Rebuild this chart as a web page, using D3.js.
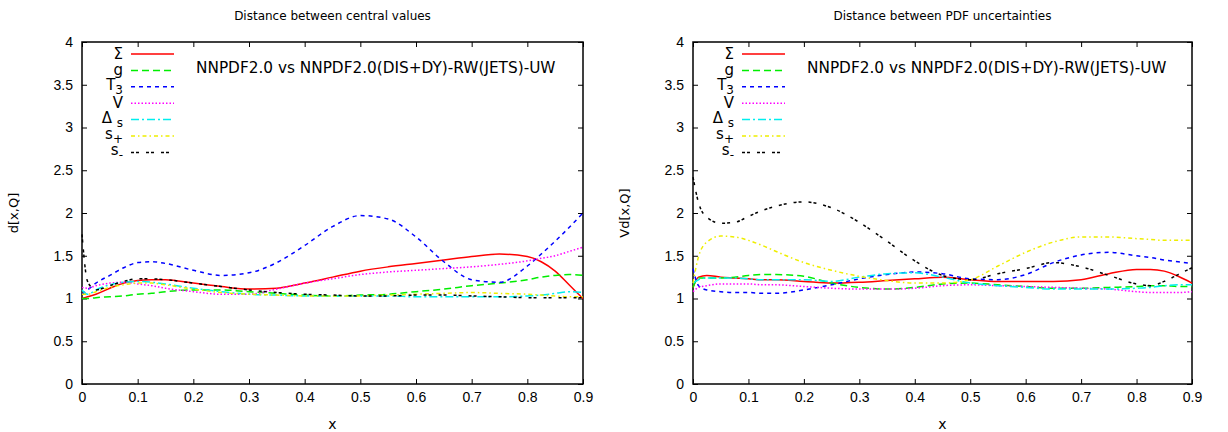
<!DOCTYPE html>
<html>
<head>
<script src="https://d3js.org/d3.v7.min.js"></script>
<style>
  body { margin: 0; background: #fff; font-family: 'DejaVu Sans', sans-serif; }
  .tick text { font-size: 14px; fill: #000; }
  .tick line { stroke: #000; stroke-width: 1; }
</style>
</head>
<body>
<svg id="chart" width="1228" height="432"></svg>
<script>
// x positions shared by all curves
const xGrid = [0, 0.01, 0.025, 0.05, 0.075, 0.1, 0.125, 0.15, 0.2, 0.25, 0.3, 0.35, 0.4, 0.45,
               0.5, 0.55, 0.6, 0.65, 0.7, 0.75, 0.8, 0.825, 0.85, 0.875, 0.9];

// left panel: distance between central values
const cvSigma = [1.0, 1.02, 1.05, 1.12, 1.18, 1.21, 1.22, 1.22, 1.18, 1.14, 1.11, 1.12, 1.18, 1.25,
                 1.32, 1.37, 1.41, 1.45, 1.49, 1.52, 1.49, 1.43, 1.32, 1.16, 1.0];
const cvG     = [1.0, 1.0, 1.01, 1.02, 1.03, 1.05, 1.06, 1.08, 1.1, 1.1, 1.08, 1.06, 1.04, 1.03,
                 1.04, 1.05, 1.08, 1.11, 1.15, 1.18, 1.22, 1.25, 1.27, 1.28, 1.27];
const cvT3    = [1.05, 1.1, 1.18, 1.27, 1.36, 1.42, 1.43, 1.41, 1.33, 1.27, 1.3, 1.42, 1.62, 1.84,
                 1.97, 1.93, 1.72, 1.43, 1.22, 1.19, 1.38, 1.52, 1.67, 1.83, 2.0];
const cvV     = [1.13, 1.12, 1.15, 1.18, 1.19, 1.17, 1.15, 1.12, 1.08, 1.05, 1.05, 1.11, 1.18, 1.23,
                 1.28, 1.31, 1.33, 1.35, 1.37, 1.4, 1.44, 1.47, 1.5, 1.55, 1.6];
const cvDs    = [1.1, 1.05, 1.1, 1.16, 1.19, 1.2, 1.19, 1.17, 1.12, 1.08, 1.05, 1.04, 1.03, 1.03,
                 1.03, 1.03, 1.02, 1.02, 1.02, 1.02, 1.03, 1.04, 1.06, 1.08, 1.07];
const cvSp    = [1.05, 1.05, 1.08, 1.13, 1.16, 1.18, 1.18, 1.16, 1.11, 1.07, 1.05, 1.04, 1.03, 1.03,
                 1.03, 1.04, 1.05, 1.06, 1.07, 1.06, 1.05, 1.04, 1.03, 1.02, 1.02];
const cvSm    = [1.75, 1.2, 1.1, 1.15, 1.2, 1.23, 1.23, 1.22, 1.18, 1.14, 1.1, 1.07, 1.05, 1.04,
                 1.03, 1.03, 1.04, 1.04, 1.03, 1.02, 1.01, 1.01, 1.01, 1.01, 1.01];

// right panel: distance between PDF uncertainties
const unSigma = [1.13, 1.25, 1.27, 1.25, 1.24, 1.23, 1.22, 1.22, 1.2, 1.18, 1.19, 1.21, 1.23, 1.25,
                 1.22, 1.2, 1.2, 1.2, 1.22, 1.29, 1.34, 1.34, 1.32, 1.26, 1.18];
const unG     = [1.13, 1.24, 1.24, 1.24, 1.25, 1.27, 1.28, 1.28, 1.26, 1.18, 1.13, 1.11, 1.13, 1.17,
                 1.18, 1.16, 1.14, 1.12, 1.12, 1.13, 1.14, 1.15, 1.15, 1.14, 1.14];
const unT3    = [1.35, 1.15, 1.1, 1.08, 1.07, 1.07, 1.06, 1.06, 1.1, 1.16, 1.23, 1.28, 1.31, 1.29,
                 1.23, 1.22, 1.28, 1.42, 1.51, 1.54, 1.5, 1.48, 1.45, 1.43, 1.41];
const unV     = [1.08, 1.13, 1.15, 1.17, 1.17, 1.17, 1.16, 1.16, 1.14, 1.12, 1.11, 1.11, 1.12, 1.15,
                 1.16, 1.15, 1.14, 1.13, 1.12, 1.11, 1.08, 1.07, 1.07, 1.07, 1.08];
const unDs    = [1.18, 1.22, 1.24, 1.24, 1.24, 1.23, 1.22, 1.22, 1.22, 1.2, 1.25, 1.29, 1.3, 1.25,
                 1.18, 1.15, 1.13, 1.11, 1.11, 1.11, 1.12, 1.13, 1.15, 1.16, 1.16];
const unSp    = [1.18, 1.49, 1.66, 1.73, 1.72, 1.68, 1.62, 1.55, 1.42, 1.33, 1.26, 1.21, 1.18, 1.18,
                 1.22, 1.38, 1.54, 1.66, 1.72, 1.72, 1.7, 1.69, 1.68, 1.68, 1.68];
const unSm    = [2.42, 2.12, 1.95, 1.88, 1.89, 1.96, 2.03, 2.08, 2.13, 2.06, 1.89, 1.67, 1.44, 1.27,
                 1.22, 1.29, 1.35, 1.42, 1.37, 1.27, 1.17, 1.15, 1.2, 1.28, 1.36];

// legend labels as [main, subscript]
const legendLabels = [["Σ", ""], ["g", ""], ["T", "3"], ["V", ""], ["Δ ", "s"], ["s", "+"], ["s", "-"]];
const xTicks = [0, 0.1, 0.2, 0.3, 0.4, 0.5, 0.6, 0.7, 0.8, 0.9];
const yTicks = [0, 0.5, 1, 1.5, 2, 2.5, 3, 3.5, 4];
const comparison = "NNPDF2.0 vs NNPDF2.0(DIS+DY)-RW(JETS)-UW";

const styles = [
  { color: "#ff0000", dash: null },
  { color: "#00ee00", dash: "7,4" },
  { color: "#0000ff", dash: "4,4" },
  { color: "#ff00ff", dash: "1.5,2" },
  { color: "#00eeee", dash: "8,3,2,3" },
  { color: "#eeee00", dash: "4,3,1.5,3" },
  { color: "#000000", dash: "3,2,3,7" }
];

const svg = d3.select("#chart");

function drawPanel(p) {
  const x = d3.scaleLinear().domain([0, 0.9]).range([p.left, p.right]);
  const y = d3.scaleLinear().domain([0, 4]).range([384, 42]);
  const g = svg.append("g");

  // axes with inward ticks, mirrored
  g.append("g").attr("transform", `translate(0,384)`)
    .call(d3.axisBottom(x).tickValues(xTicks).tickFormat(d3.format("")).tickSize(-5).tickPadding(8))
    .call(a => a.select(".domain").remove());
  g.append("g").attr("transform", `translate(0,42)`)
    .call(d3.axisTop(x).tickValues(xTicks).tickFormat("").tickSize(-5))
    .call(a => a.select(".domain").remove());
  g.append("g").attr("transform", `translate(${p.left},0)`)
    .call(d3.axisLeft(y).tickValues(yTicks).tickFormat(d3.format("")).tickSize(-5).tickPadding(9))
    .call(a => a.select(".domain").remove());
  g.append("g").attr("transform", `translate(${p.right},0)`)
    .call(d3.axisRight(y).tickValues(yTicks).tickFormat("").tickSize(-5))
    .call(a => a.select(".domain").remove());

  g.append("rect")
    .attr("x", p.left).attr("y", 42)
    .attr("width", p.right - p.left).attr("height", 342)
    .attr("fill", "none").attr("stroke", "#000").attr("stroke-width", 1.5);

  // curves
  const line = d3.line().x((d, i) => x(xGrid[i])).y(d => y(d)).curve(d3.curveMonotoneX);
  p.series.forEach((vals, k) => {
    g.append("path")
      .attr("d", line(vals))
      .attr("fill", "none")
      .attr("stroke", styles[k].color)
      .attr("stroke-width", 1.5)
      .attr("stroke-dasharray", styles[k].dash);
  });

  // legend
  legendLabels.forEach((lab, k) => {
    const ly = 54 + k * 16.4;
    g.append("line")
      .attr("x1", p.left + 49).attr("x2", p.left + 92)
      .attr("y1", ly).attr("y2", ly)
      .attr("stroke", styles[k].color)
      .attr("stroke-width", 1.5)
      .attr("stroke-dasharray", styles[k].dash);
    const t = g.append("text")
      .attr("x", p.left + 41).attr("y", ly + (lab[1] ? 3 : 5))
      .attr("text-anchor", "end")
      .attr("font-size", 15);
    t.append("tspan").text(lab[0]);
    if (lab[1]) t.append("tspan").attr("dy", 4).attr("font-size", 12).text(lab[1]);
  });

  g.append("text")
    .attr("x", p.left + 114).attr("y", 73)
    .attr("font-size", 15.3)
    .text(comparison);

  g.append("text")
    .attr("x", (p.left + p.right) / 2).attr("y", 20)
    .attr("text-anchor", "middle")
    .attr("font-size", 12)
    .text(p.title);

  g.append("text")
    .attr("x", (p.left + p.right) / 2).attr("y", 429)
    .attr("text-anchor", "middle")
    .attr("font-size", 14)
    .text("x");

  g.append("text")
    .attr("transform", `translate(${p.left - 64},213) rotate(-90)`)
    .attr("text-anchor", "middle")
    .attr("font-size", 13)
    .text(p.ylabel);
}

drawPanel({ left: 82, right: 583, title: "Distance between central values", ylabel: "d[x,Q]",
  series: [cvSigma, cvG, cvT3, cvV, cvDs, cvSp, cvSm] });
drawPanel({ left: 693, right: 1192, title: "Distance between PDF uncertainties", ylabel: "Vd[x,Q]",
  series: [unSigma, unG, unT3, unV, unDs, unSp, unSm] });
</script>
</body>
</html>
